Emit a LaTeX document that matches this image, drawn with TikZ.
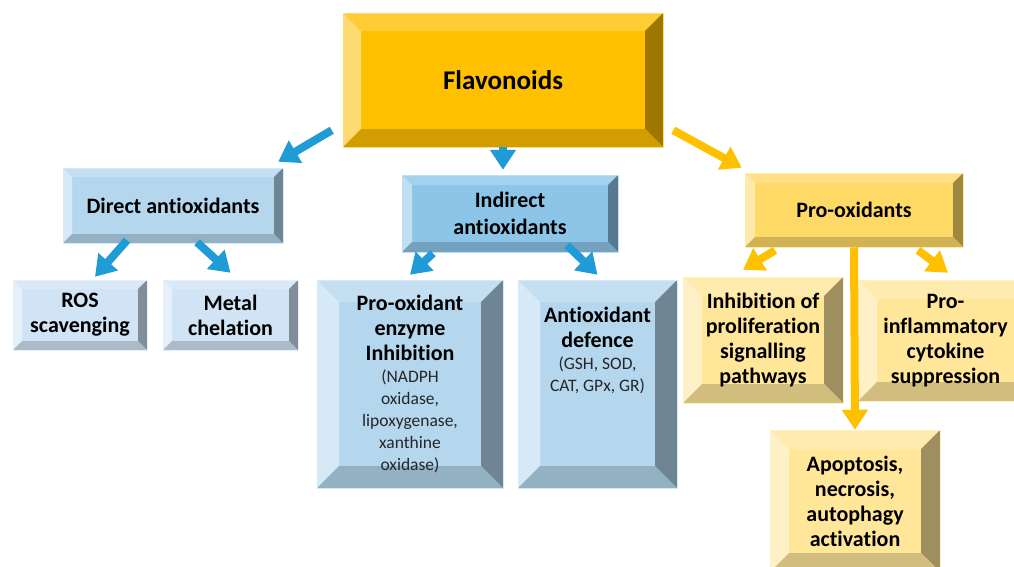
\documentclass[tikz,border=0pt]{standalone}
\usepackage{fontspec}
\setmainfont{Carlito}[Ligatures=NoCommon]
\usetikzlibrary{shapes,arrows,arrows.meta}
\usetikzlibrary{positioning}

\definecolor{flavface}{RGB}{255,192,0}
\definecolor{bluemid}{RGB}{141,197,233}
\definecolor{bluelt}{RGB}{180,215,238}
\definecolor{bluepale}{RGB}{208,228,245}
\definecolor{oxmid}{RGB}{255,217,102}
\definecolor{oxlt}{RGB}{255,230,153}
\definecolor{arrowblue}{RGB}{31,155,214}
\definecolor{arroworange}{RGB}{255,192,0}

\newcommand{\smalltext}{\fontsize{17.5}{22}\selectfont\mdseries\color{black!85}}

\tikzset{bevbox/.style 2 args={rectangle, inner sep=0pt, align=center, fill=#1,
    draw=#1!55!white, line width=0.5pt, font=\fontsize{22}{25}\selectfont\bfseries,
    path picture={
      \fill [#1!80!white] (path picture bounding box.north west) -- (path picture bounding box.north east)
        -- ([shift={(-#2,-#2)}]path picture bounding box.north east)
        -- ([shift={(#2,-#2)}]path picture bounding box.north west) -- cycle;
      \fill [#1!55!white] (path picture bounding box.north west) -- (path picture bounding box.south west)
        -- ([shift={(#2,#2)}]path picture bounding box.south west)
        -- ([shift={(#2,-#2)}]path picture bounding box.north west) -- cycle;
      \fill [#1!62!black] (path picture bounding box.north east) -- (path picture bounding box.south east)
        -- ([shift={(-#2,#2)}]path picture bounding box.south east)
        -- ([shift={(-#2,-#2)}]path picture bounding box.north east) -- cycle;
      \fill [#1!82!black] (path picture bounding box.south west) -- (path picture bounding box.south east)
        -- ([shift={(-#2,#2)}]path picture bounding box.south east)
        -- ([shift={(#2,#2)}]path picture bounding box.south west) -- cycle;
    }}}
\tikzstyle{boxtext} = [inner sep=0pt, align=center, font=\fontsize{22}{25}\selectfont\bfseries]
\tikzstyle{bline} = [draw=arrowblue, line width=8pt, -{Triangle[width=25pt,length=20pt]}]
\tikzstyle{oline} = [draw=arroworange, line width=8pt, -{Triangle[width=25pt,length=20pt]}]

\begin{document}
\begin{tikzpicture}
\useasboundingbox (0,0) rectangle (1014pt,-566pt);
\clip (0,0) rectangle (1014pt,-566pt);
% Place nodes
\node [bevbox={flavface}{18pt}, minimum width=320pt, minimum height=134pt,
  font=\fontsize{27}{30}\selectfont\bfseries] (flav) at (503pt,-80pt) {Flavonoids};

\node [bevbox={bluelt}{9pt}, minimum width=220pt, minimum height=75pt,
  node distance=125.5pt, below of=flav, xshift=-330pt] (direct) {Direct antioxidants};
\node [bevbox={bluemid}{10pt}, minimum width=216pt, minimum height=77pt,
  node distance=133.5pt, below of=flav, xshift=7pt] (indirect) {Indirect\\[2pt]antioxidants};
\node [bevbox={oxmid}{10pt}, minimum width=218pt, minimum height=74pt,
  node distance=130pt, below of=flav, xshift=351pt] (prox) {Pro-oxidants};

\node [bevbox={bluepale}{9pt}, minimum width=134pt, minimum height=70pt,
  node distance=109.5pt, below of=direct, xshift=-93pt] (ros) {ROS\\scavenging};
\node [bevbox={bluepale}{9pt}, minimum width=135pt, minimum height=70pt,
  node distance=109.5pt, below of=direct, xshift=57.5pt] (metal) {Metal\\chelation};

\node [bevbox={bluelt}{22pt}, minimum width=186pt, minimum height=208pt,
  node distance=170.5pt, below of=indirect, xshift=-100pt] (proenz)
  {Pro-oxidant\\enzyme\\Inhibition\\[-3pt]{\smalltext (NADPH}\\[-3pt]{\smalltext oxidase,}%
  \\[-3pt]{\smalltext lipoxygenase,}\\[-3pt]{\smalltext xanthine}\\[-3pt]{\smalltext oxidase)}};
\node [bevbox={bluelt}{22pt}, minimum width=159pt, minimum height=208pt,
  node distance=170.5pt, below of=indirect, xshift=87.5pt] (antidef) {};
\node [boxtext, below=27pt of antidef.north] (antidefText)
  {Antioxidant\\defence\\[-3pt]{\smalltext (GSH, SOD,}\\[-3pt]{\smalltext CAT, GPx, GR)}};

\node [bevbox={oxlt}{19pt}, minimum width=160pt, minimum height=126pt,
  node distance=130pt, below of=prox, xshift=-91pt] (inhib)
  {Inhibition of\\proliferation\\signalling\\pathways};
\node [bevbox={oxlt}{19pt}, minimum width=175pt, minimum height=121pt,
  node distance=130.5pt, below of=prox, xshift=91.5pt] (proinfl)
  {Pro-\\inflammatory\\cytokine\\suppression};
\node [bevbox={oxlt}{19pt}, minimum width=170pt, minimum height=142pt,
  node distance=291pt, below of=prox, xshift=1pt] (apop)
  {Apoptosis,\\necrosis,\\autophagy\\activation};

% Draw edges
\path [bline] ([shift={(-11pt,17pt)}]flav.south west) -- ([shift={(-5pt,6pt)}]direct.north east);
\path [bline] (flav.south) -- ([shift={(-7pt,5pt)}]indirect.north);
\path [oline] ([shift={(10pt,17pt)}]flav.south east) -- ([shift={(-3pt,5pt)}]prox.north west);

\path [bline] ([shift={(-46pt,3pt)}]direct.south) -- ([shift={(15pt,3pt)}]ros.north);
\path [bline] ([shift={(24pt,1pt)}]direct.south) -- ([yshift=7pt]metal.north);

\path [bline] ([shift={(-77pt,-1pt)}]indirect.south) -- ([yshift=5pt]proenz.north);
\path [bline] ([shift={(57pt,7pt)}]indirect.south) -- ([yshift=5pt]antidef.north);

\path [oline] ([shift={(-79pt,-3pt)}]prox.south) -- ([shift={(-20pt,7pt)}]inhib.north);
\path [oline] ([shift={(64pt,-3pt)}]prox.south) -- ([shift={(2.5pt,7pt)}]proinfl.north);
\path [oline] (prox.south) -- (apop.north);

\end{tikzpicture}
\end{document}
